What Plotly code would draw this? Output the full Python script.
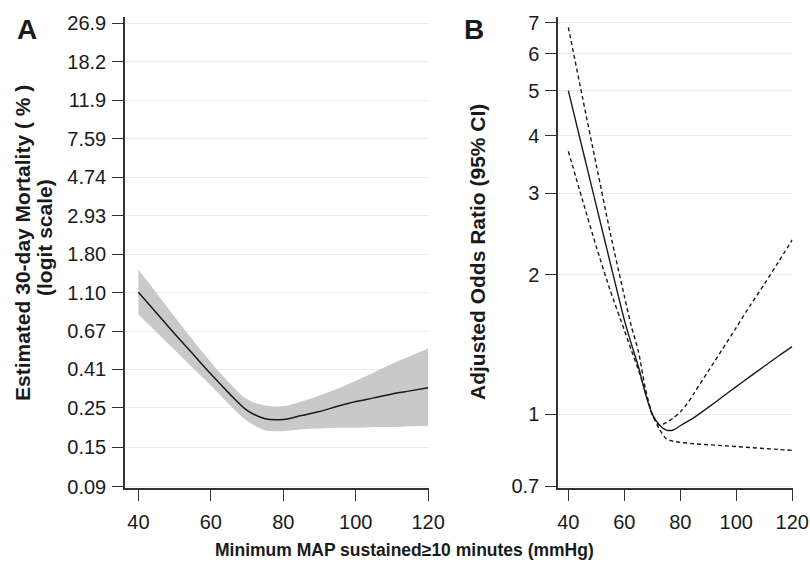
import numpy as np
import plotly.graph_objects as go

# ---------------- Panel A data (estimated 30-day mortality, %) ----------------
map_a = [40, 45, 50, 55, 60, 65, 70, 75, 80, 85, 90, 95, 100, 105, 110, 115, 120]
mort_est = [1.110, 0.850, 0.650, 0.502, 0.387, 0.302, 0.242, 0.217, 0.215, 0.226,
            0.238, 0.255, 0.271, 0.284, 0.299, 0.311, 0.324]
mort_upper = [1.477, 1.099, 0.809, 0.600, 0.450, 0.347, 0.279, 0.257, 0.255, 0.271,
              0.293, 0.320, 0.354, 0.395, 0.441, 0.487, 0.538]
mort_lower = [0.833, 0.663, 0.527, 0.419, 0.333, 0.262, 0.211, 0.187, 0.185, 0.189,
              0.191, 0.193, 0.193, 0.195, 0.195, 0.197, 0.197]
mort_ticks = ["0.09", "0.15", "0.25", "0.41", "0.67", "1.10", "1.80", "2.93",
              "4.74", "7.59", "11.9", "18.2", "26.9"]

# ---------------- Panel B data (adjusted odds ratio, 95% CI) ----------------
map_b = [40, 45, 50, 55, 60, 62.5, 65, 67.5, 70, 72.5, 75, 77.5, 80, 82.5, 85, 90, 95,
         100, 105, 110, 115, 120]
or_est = [5.00, 3.75, 2.82, 2.12, 1.60, 1.42, 1.27, 1.11, 1.00, 0.950, 0.925, 0.925,
          0.945, 0.965, 0.985, 1.035, 1.09, 1.148, 1.208, 1.27, 1.335, 1.40]
or_upper = [6.85, 4.85, 3.45, 2.46, 1.80, 1.55, 1.37, 1.14, 1.00, 0.948, 0.960, 0.982,
            1.012, 1.055, 1.113, 1.24, 1.38, 1.54, 1.72, 1.91, 2.13, 2.38]
or_lower = [3.70, 2.91, 2.30, 1.85, 1.52, 1.376, 1.25, 1.12, 1.00, 0.930, 0.885, 0.875,
            0.870, 0.867, 0.864, 0.860, 0.856, 0.852, 0.848, 0.844, 0.840, 0.836]
or_ticks = [0.7, 1, 2, 3, 4, 5, 6, 7]

x_ticks = [40, 60, 80, 100, 120]


def logit_pct(p):
    p = np.asarray(p, dtype=float) / 100.0
    return np.log(p / (1 - p))


FONT = "Liberation Sans, Arial, sans-serif"
BLACK = "#1a1a1a"
GRID = "#ebebeb"

fig = go.Figure()

# Panel A: confidence band
fig.add_trace(go.Scatter(x=map_a, y=logit_pct(mort_lower), mode="lines",
                         line=dict(width=0, shape="spline", smoothing=1.0),
                         hoverinfo="skip", showlegend=False, xaxis="x", yaxis="y"))
fig.add_trace(go.Scatter(x=map_a, y=logit_pct(mort_upper), mode="lines",
                         line=dict(width=0, shape="spline", smoothing=1.0),
                         fill="tonexty", fillcolor="#c9c9c9",
                         hoverinfo="skip", showlegend=False, xaxis="x", yaxis="y"))
fig.add_trace(go.Scatter(x=map_a, y=logit_pct(mort_est), mode="lines",
                         line=dict(color=BLACK, width=1.5, shape="spline", smoothing=1.0),
                         showlegend=False, xaxis="x", yaxis="y"))

# Panel B lines
for vals, dash in [(or_upper, "4px,3px"), (or_lower, "4px,3px"), (or_est, "solid")]:
    fig.add_trace(go.Scatter(x=map_b, y=vals, mode="lines",
                             line=dict(color=BLACK, width=1.4, dash=dash,
                                       shape="spline", smoothing=0.7),
                             showlegend=False, xaxis="x2", yaxis="y2"))

W, H = 810, 565
ytop = 1 - 17 / H
ybot = 1 - 488 / H

axis_common = dict(showline=True, linecolor="#333333", linewidth=1.5,
                   ticks="outside", ticklen=11, tickwidth=1.3, tickcolor="#333333",
                   tickfont=dict(family=FONT, size=20, color=BLACK),
                   zeroline=False, automargin=False)

fig.update_layout(
    width=W, height=H,
    margin=dict(l=0, r=0, t=0, b=0, autoexpand=False),
    paper_bgcolor="white", plot_bgcolor="white",
    font=dict(family=FONT, color=BLACK),
    xaxis=dict(domain=[125 / W, 428.5 / W], range=[36.3, 120.1], tickvals=x_ticks,
               showgrid=False, anchor="y", ticklabelstandoff=4, **axis_common),
    yaxis=dict(domain=[ybot, ytop], range=[-7.03, -0.92],
               tickvals=logit_pct([float(t) for t in mort_ticks]), ticktext=mort_ticks,
               showgrid=True, gridcolor=GRID, gridwidth=1, anchor="x",
               ticklabelstandoff=2, **axis_common),
    xaxis2=dict(domain=[558 / W, 792.5 / W], range=[36.3, 120.1], tickvals=x_ticks,
                showgrid=False, anchor="y2", ticklabelstandoff=4, **axis_common),
    yaxis2=dict(domain=[ybot, ytop], type="log", range=[-0.159, 0.858],
                tickvals=or_ticks, ticktext=[str(t) for t in or_ticks],
                showgrid=True, gridcolor=GRID, gridwidth=1, anchor="x2",
                ticklabelstandoff=2, **axis_common),
)

ann = [
    dict(text="<b>A</b>", x=27, y=30, size=28),
    dict(text="<b>B</b>", x=474, y=30, size=28),
    dict(text="<b>Minimum MAP sustained≥10 minutes (mmHg)</b>", x=404, y=550, size=17.5),
]
for a in ann:
    fig.add_annotation(text=a["text"], x=a["x"] / W, y=1 - a["y"] / H,
                       xref="paper", yref="paper", showarrow=False,
                       xanchor="center", yanchor="middle",
                       font=dict(family=FONT, size=a["size"], color=BLACK))

for text, x, y in [("<b>Estimated 30-day Mortality ( % )</b>", 22, 243),
                   ("<b>(logit scale)</b>", 44, 238),
                   ("<b>Adjusted Odds Ratio (95% CI)</b>", 478, 252)]:
    fig.add_annotation(text=text, x=x / W, y=1 - y / H, xref="paper", yref="paper",
                       showarrow=False, textangle=-90, xanchor="center", yanchor="middle",
                       font=dict(family=FONT, size=21, color=BLACK))

fig.write_html("out.html", config={"displayModeBar": False},
               post_script="document.body.style.margin='0';")
